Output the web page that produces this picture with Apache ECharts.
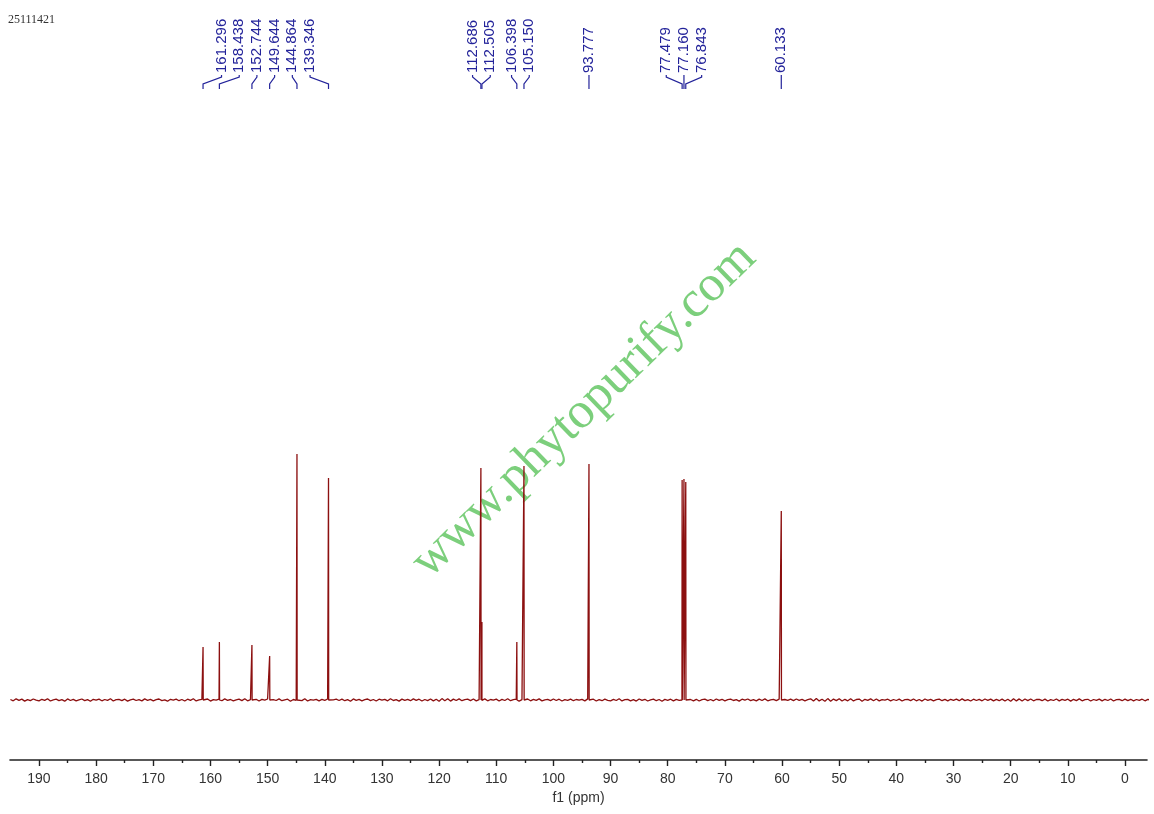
<!DOCTYPE html>
<html>
<head>
<meta charset="utf-8">
<script src="https://cdn.jsdelivr.net/npm/echarts@6/dist/echarts.min.js"></script>
<style>
html,body{margin:0;padding:0;background:#fff;}
#chart{width:1154px;height:814px;}
</style>
</head>
<body>
<div id="chart"></div>
<script>
// ---- data ----
const sampleId = '25111421';
const axisTitle = 'f1 (ppm)';
const watermark = 'www.phytopurify.com';
const peakPpm    = [161.296, 158.438, 152.744, 149.644, 144.864, 139.346, 112.686, 112.505, 106.398, 105.150, 93.777, 77.479, 77.160, 76.843, 60.133];
const peakHeight = [53, 58, 55, 44, 246, 222, 232, 78, 58, 234, 236, 220, 221, 218, 189];
const tickLabels = [190, 180, 170, 160, 150, 140, 130, 120, 110, 100, 90, 80, 70, 60, 50, 40, 30, 20, 10, 0];
const minorTicks = [185, 175, 165, 155, 145, 135, 125, 115, 105, 95, 85, 75, 65, 55, 45, 35, 25, 15, 5];
// baseline noise read at 0.5 ppm steps from 195 ppm downwards
const noiseStart = 195;
const noiseStep = 0.5;
const noise = [
  0.5,-0.8,1.2,-0.3,0.9,-1.1,0.4,-0.6,1.0,-0.2,-0.9,0.7,-0.4,1.3,-1.0,0.2,0.8,-0.7,0.3,-1.2,
  1.1,-0.5,0.6,-0.9,0.1,1.0,-0.6,0.4,-1.3,0.7,-0.2,0.9,-0.8,0.5,-0.4,1.2,-1.0,0.3,0.6,-0.7,
  0.8,-1.1,0.2,0.9,-0.5,0.4,-0.9,1.1,-0.3,0.6,-0.8,0.3,1.0,-0.6,0.2,-1.2,0.7,-0.1,0.9,-0.7,
  0.5,-1.0,0.8,-0.4,1.2,-0.9,0.1,0.6,-0.5,1.0,-1.1,0.4,-0.2,0.8,-0.7,1.1,-0.3,0.5,-0.9,0.2,
  0.9,-0.6,1.3,-0.8,0.3,-0.4,0.7,-1.0,0.6,-0.2,1.0,-0.9,0.4,-0.5,1.1,-0.7,0.2,0.8,-1.2,0.5,
 -0.3,0.9,-0.6,1.2,-1.0,0.3,-0.1,0.7,-0.8,0.6,-0.4,1.0,-1.1,0.2,0.8,-0.5,0.9,-0.7,0.4,-1.2,
  1.1,-0.3,0.6,-0.9,0.3,1.0,-0.6,0.5,-1.0,0.8,-0.2,0.7,-0.8,1.2,-0.5,0.3,-1.1,0.9,-0.4,0.6,
 -0.7,1.1,-0.3,0.8,-1.0,0.5,-0.6,1.0,-0.9,0.7,-1.3,1.4,-0.8,1.2,-1.1,0.9,-0.5,1.1,-0.7,0.4,
  0.8,-0.6,1.0,-0.9,0.3,-0.4,1.1,-0.8,0.5,-0.2,0.9,-1.0,0.6,-0.5,1.2,-0.7,0.3,0.8,-1.1,0.4,
 -0.3,1.0,-0.8,0.6,-0.4,1.1,-0.9,0.2,0.7,-0.6,1.0,-0.5,0.8,-1.0,0.4,-0.3,0.9,-0.7,0.5,-0.2,
  0.6,-0.9,1.1,-0.4,0.8,-1.0,0.3,-0.7,0.9,-0.3,-0.8,0.6,-0.5,1.2,-0.9,0.3,0.7,-0.8,0.4,-1.1,
  1.0,-0.4,0.7,-1.0,0.2,0.9,-0.7,0.5,-1.2,0.6,-0.3,0.8,-0.9,0.6,-0.3,1.1,-0.9,0.4,0.5,-0.8,
  0.7,-1.0,0.3,0.8,-0.6,0.5,-0.8,1.0,-0.4,0.7,-0.9,0.4,0.9,-0.5,0.3,-1.1,0.8,-0.2,1.0,-0.6,
  0.4,-0.9,0.9,-0.5,1.1,-0.8,0.2,0.7,-0.6,0.9,-1.0,0.5,-0.3,0.9,-0.6,1.0,-0.4,0.6,-0.8,0.3,
  1.2,-1.1,1.5,-0.9,0.8,-1.3,1.4,-1.2,0.9,-0.6,1.3,-1.0,0.7,-0.8,1.2,-0.9,0.5,0.9,-1.3,0.7,
 -0.4,1.1,-0.7,1.0,-0.9,0.4,-0.2,0.8,-0.9,0.5,-0.5,0.9,-1.0,0.3,0.7,-0.6,1.0,-0.8,0.5,-1.1,
  1.0,-0.4,0.7,-0.8,0.4,0.9,-0.7,0.6,-0.9,0.7,-0.3,0.8,-0.7,1.1,-0.6,0.4,-1.0,0.8,-0.5,0.7,
 -0.8,1.0,-0.4,0.9,-0.9,0.6,-0.7,0.9,-1.0,0.8,-1.2,1.3,-0.9,1.1,-1.0,1.0,-0.6,1.0,-0.8,0.5,
  0.7,-0.7,0.9,-1.0,0.4,-0.5,1.0,-0.9,0.6,-0.3,0.8,-1.1,0.7,-0.6,1.1,-0.8,0.4,0.7,-1.0,0.5,
 -0.4,0.9,-0.9,0.7,-0.5,1.0,-1.0,0.3,0.6,-0.7,0.9,-0.6,0.7,-0.9,0.5,-0.4,0.8,-0.8,0.6,-0.3
];

// ---- build spectrum from the arrays ----
const spectrum = [];
noise.forEach((v, i) => spectrum.push([noiseStart - i * noiseStep, v]));
peakPpm.forEach((p, i) => {
  spectrum.push([p + 0.03, 0]);
  spectrum.push([p, peakHeight[i]]);
  spectrum.push([p - 0.03, 0]);
});
spectrum.sort((a, b) => b[0] - a[0]);

const chart = echarts.init(document.getElementById('chart'), null, {renderer: 'canvas'});
const axisColor = '#222';
const xMin = -3.85, xMax = 195.07;

chart.setOption({
  animation: false,
  backgroundColor: '#fff',
  grid: {left: 10, right: 7, top: 60, bottom: 54, containLabel: false},
  xAxis: [{
    type: 'value', min: xMin, max: xMax, inverse: true, position: 'bottom',
    name: axisTitle, nameLocation: 'middle', nameGap: 30,
    nameTextStyle: {fontFamily: 'Liberation Sans', fontSize: 14, color: '#333'},
    axisLine: {show: true, onZero: false, lineStyle: {color: axisColor, width: 1.6}},
    axisTick: {show: true, length: 6, inside: false, customValues: tickLabels, lineStyle: {color: axisColor, width: 1.4}},
    axisLabel: {show: true, customValues: tickLabels, margin: 12, fontFamily: 'Liberation Sans', fontSize: 14, color: '#333'},
    splitLine: {show: false}
  }, {
    type: 'value', min: xMin, max: xMax, inverse: true, position: 'bottom',
    axisLine: {show: false, onZero: false},
    axisTick: {show: true, length: 3, customValues: minorTicks, lineStyle: {color: axisColor, width: 1.4}},
    axisLabel: {show: false},
    splitLine: {show: false}
  }],
  yAxis: {type: 'value', min: -60, max: 640, show: false},
  series: [{
    type: 'line', xAxisIndex: 0, data: spectrum, symbol: 'none', sampling: null,
    lineStyle: {color: '#8c1010', width: 1.3, join: 'bevel'}, z: 3
  }]
});

// ---- annotations (labels follow peaks through the axis scale) ----
const px = peakPpm.map(p => chart.convertToPixel({xAxisIndex: 0}, p));
// cluster peaks that lie close together, spread their labels evenly around the cluster centre
function spread(xs, joinDist, gap) {
  const order = xs.map((x, i) => i).sort((a, b) => xs[a] - xs[b]);
  const clusters = [];
  order.forEach(i => {
    const last = clusters[clusters.length - 1];
    if (last && xs[i] - xs[last[last.length - 1]] <= joinDist) last.push(i);
    else clusters.push([i]);
  });
  const out = [];
  clusters.forEach(m => {
    const c = (xs[m[0]] + xs[m[m.length - 1]]) / 2;
    m.forEach((i, k) => { out[i] = c + (k - (m.length - 1) / 2) * gap; });
  });
  return out;
}
const lx = spread(px, 34, 17.7);
const labelColor = '#23239a';
const graphics = [];
graphics.push({
  type: 'text', x: 8, y: 20, z: 10,
  style: {text: sampleId, fontFamily: 'Liberation Serif', fontSize: 12, fill: '#333', align: 'left', verticalAlign: 'middle'}
});
graphics.push({
  type: 'text', x: 584, y: 410, rotation: 44.2 * Math.PI / 180, z: 1,
  style: {text: watermark, fontFamily: 'Liberation Serif', fontSize: 51, fill: '#7ccf7c', align: 'center', verticalAlign: 'middle'}
});
peakPpm.forEach((p, i) => {
  graphics.push({
    type: 'text', x: lx[i], y: 73, rotation: Math.PI / 2, z: 10,
    style: {text: p.toFixed(3), fontFamily: 'Liberation Sans', fontSize: 15, fill: labelColor, align: 'left', verticalAlign: 'middle'}
  });
  graphics.push({
    type: 'polyline', z: 10,
    shape: {points: [[lx[i], 75], [lx[i], 77], [px[i], 84], [px[i], 89]]},
    style: {stroke: labelColor, lineWidth: 1.2, fill: null}
  });
});
chart.setOption({graphic: graphics});
</script>
</body>
</html>
